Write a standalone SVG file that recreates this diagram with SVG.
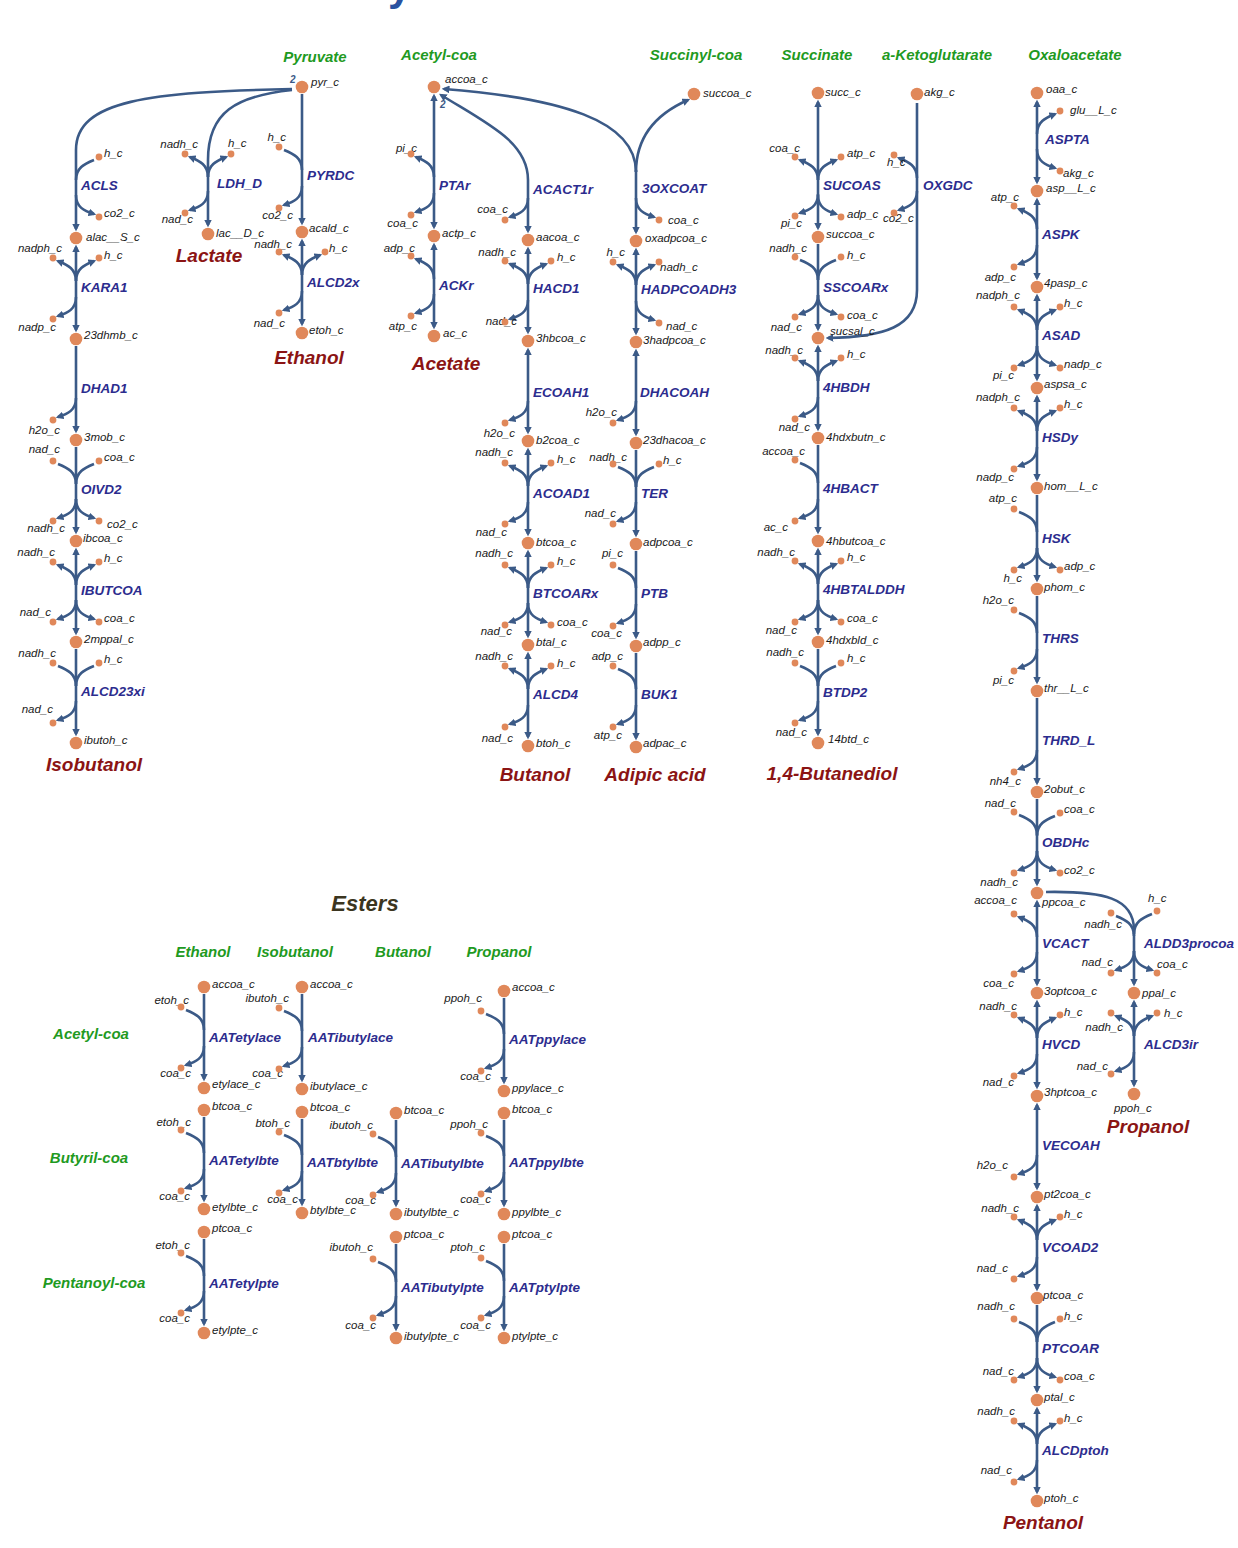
<svg xmlns="http://www.w3.org/2000/svg" width="1238" height="1548" viewBox="0 0 1238 1548">
<defs>
<style>
.ln{fill:none;stroke:#3b5a87;stroke-width:2.6}
.nd{fill:#e0885a}
.sd{fill:#e0885a}
text{font-family:"Liberation Sans",Arial,sans-serif;font-style:italic}
.m{font-size:11.5px;fill:#1a1a1a}
.e{text-anchor:end}
.rx{font-size:13.5px;font-weight:bold;fill:#2c2c8e}
.pr{font-size:19px;font-weight:bold;fill:#8b1414;text-anchor:middle}
.sr{font-size:15px;font-weight:bold;fill:#1f9a1f;text-anchor:middle}
.st{font-size:10px;font-weight:bold;fill:#3b5a87}
</style>
<marker id="ah" viewBox="0 0 10 10" refX="7" refY="5" markerWidth="3" markerHeight="3" orient="auto-start-reverse"><path d="M0,0L10,5L0,10z" fill="#3b5a87"/></marker>
<path id="tlI" fill="none" stroke="#3b5a87" stroke-width="2.6" d="M5,3C15,7 23,11 23,23"/>
<path id="tlO" fill="none" stroke="#3b5a87" stroke-width="2.6" d="M23,23C23,11 15,7 5,3" marker-end="url(#ah)"/>
<path id="trI" fill="none" stroke="#3b5a87" stroke-width="2.6" d="M-5,3C-15,7 -23,11 -23,23"/>
<path id="trO" fill="none" stroke="#3b5a87" stroke-width="2.6" d="M-23,23C-23,11 -15,7 -5,3" marker-end="url(#ah)"/>
<path id="blO" fill="none" stroke="#3b5a87" stroke-width="2.6" d="M23,-22C23,-10 15,-6 5,-3" marker-end="url(#ah)"/>
<path id="brO" fill="none" stroke="#3b5a87" stroke-width="2.6" d="M-23,-22C-23,-10 -15,-6 -5,-3" marker-end="url(#ah)"/>
</defs>
<rect width="1238" height="1548" fill="#ffffff"/>
<text x="388" y="0" style="font-size:42px;font-weight:bold;font-style:normal;fill:#2a52a0">y</text>

<g id="headers">
<text class="sr" x="315" y="62">Pyruvate</text>
<text class="sr" x="439" y="60">Acetyl-coa</text>
<text class="sr" x="696" y="60">Succinyl-coa</text>
<text class="sr" x="817" y="60">Succinate</text>
<text class="sr" x="937" y="60">a-Ketoglutarate</text>
<text class="sr" x="1075" y="60">Oxaloacetate</text>
<text class="pr" x="209" y="262">Lactate</text>
<text class="pr" x="309" y="364">Ethanol</text>
<text class="pr" x="446" y="370">Acetate</text>
<text class="pr" x="94" y="771">Isobutanol</text>
<text class="pr" x="535" y="781">Butanol</text>
<text class="pr" x="655" y="781">Adipic acid</text>
<text class="pr" x="832" y="780">1,4-Butanediol</text>
<text class="pr" x="1148" y="1133">Propanol</text>
<text class="pr" x="1043" y="1529">Pentanol</text>
<text x="365" y="911" style="font-size:22px;font-weight:bold;fill:#3b3520;text-anchor:middle">Esters</text>
<text class="sr" x="203" y="957">Ethanol</text>
<text class="sr" x="295" y="957">Isobutanol</text>
<text class="sr" x="403" y="957">Butanol</text>
<text class="sr" x="499" y="957">Propanol</text>
<text class="sr" x="91" y="1039">Acetyl-coa</text>
<text class="sr" x="89" y="1163">Butyril-coa</text>
<text class="sr" x="94" y="1288">Pentanoyl-coa</text>
</g>

<g id="connectors">
<path class="ln" marker-end="url(#ah)" d="M292,89C150,92 76,100 76,150L76,229"/>
<path class="ln" marker-end="url(#ah)" d="M292,90C236,96 208,112 208,160L208,225"/>
<path class="ln" marker-end="url(#ah)" d="M302,94L302,223"/>
<path class="ln" marker-start="url(#ah)" marker-end="url(#ah)" d="M302,241L302,324"/>
<path class="ln" marker-start="url(#ah)" marker-end="url(#ah)" d="M76,247L76,330"/>
<path class="ln" marker-end="url(#ah)" d="M76,346L76,431"/>
<path class="ln" marker-end="url(#ah)" d="M76,447L76,532"/>
<path class="ln" marker-start="url(#ah)" marker-end="url(#ah)" d="M76,550L76,633"/>
<path class="ln" marker-end="url(#ah)" d="M76,649L76,734"/>
<path class="ln" marker-start="url(#ah)" marker-end="url(#ah)" d="M434,96L434,227"/>
<path class="ln" marker-start="url(#ah)" marker-end="url(#ah)" d="M434,245L434,327"/>
<path class="ln" marker-start="url(#ah)" marker-end="url(#ah)" d="M441,95C488,124 528,142 528,180L528,231"/>
<path class="ln" marker-start="url(#ah)" d="M444,89C560,98 636,120 636,172"/>
<path class="ln" marker-start="url(#ah)" d="M688,100C656,114 636,136 636,172"/>
<path class="ln" marker-end="url(#ah)" d="M636,170L636,232"/>
<path class="ln" marker-start="url(#ah)" marker-end="url(#ah)" d="M528,249L528,332"/>
<path class="ln" marker-start="url(#ah)" marker-end="url(#ah)" d="M528,350L528,432"/>
<path class="ln" marker-start="url(#ah)" marker-end="url(#ah)" d="M528,450L528,534"/>
<path class="ln" marker-start="url(#ah)" marker-end="url(#ah)" d="M528,552L528,636"/>
<path class="ln" marker-start="url(#ah)" marker-end="url(#ah)" d="M528,654L528,737"/>
<path class="ln" marker-start="url(#ah)" marker-end="url(#ah)" d="M636,250L636,333"/>
<path class="ln" marker-start="url(#ah)" marker-end="url(#ah)" d="M636,351L636,434"/>
<path class="ln" marker-end="url(#ah)" d="M636,450L636,535"/>
<path class="ln" marker-end="url(#ah)" d="M636,551L636,637"/>
<path class="ln" marker-end="url(#ah)" d="M636,653L636,738"/>
<path class="ln" marker-start="url(#ah)" marker-end="url(#ah)" d="M818,102L818,228"/>
<path class="ln" marker-end="url(#ah)" d="M818,244L818,329"/>
<path class="ln" marker-end="url(#ah)" d="M917,103L917,290C917,327 884,337 828,338"/>
<path class="ln" marker-start="url(#ah)" marker-end="url(#ah)" d="M818,347L818,429"/>
<path class="ln" marker-end="url(#ah)" d="M818,445L818,532"/>
<path class="ln" marker-start="url(#ah)" marker-end="url(#ah)" d="M818,550L818,633"/>
<path class="ln" marker-end="url(#ah)" d="M818,649L818,734"/>
<path class="ln" marker-start="url(#ah)" marker-end="url(#ah)" d="M1037,102L1037,182"/>
<path class="ln" marker-start="url(#ah)" marker-end="url(#ah)" d="M1037,200L1037,278"/>
<path class="ln" marker-start="url(#ah)" marker-end="url(#ah)" d="M1037,296L1037,379"/>
<path class="ln" marker-start="url(#ah)" marker-end="url(#ah)" d="M1037,397L1037,479"/>
<path class="ln" marker-end="url(#ah)" d="M1037,495L1037,580"/>
<path class="ln" marker-end="url(#ah)" d="M1037,596L1037,682"/>
<path class="ln" marker-end="url(#ah)" d="M1037,698L1037,783"/>
<path class="ln" marker-end="url(#ah)" d="M1037,799L1037,884"/>
<path class="ln" marker-start="url(#ah)" marker-end="url(#ah)" d="M1037,902L1037,984"/>
<path class="ln" marker-end="url(#ah)" d="M1046,892C1104,891 1134,898 1134,930L1134,984"/>
<path class="ln" marker-start="url(#ah)" marker-end="url(#ah)" d="M1134,1002L1134,1085"/>
<path class="ln" marker-start="url(#ah)" marker-end="url(#ah)" d="M1037,1002L1037,1087"/>
<path class="ln" marker-start="url(#ah)" marker-end="url(#ah)" d="M1037,1105L1037,1188"/>
<path class="ln" marker-start="url(#ah)" marker-end="url(#ah)" d="M1037,1206L1037,1289"/>
<path class="ln" marker-end="url(#ah)" d="M1037,1305L1037,1391"/>
<path class="ln" marker-start="url(#ah)" marker-end="url(#ah)" d="M1037,1409L1037,1492"/>
<path class="ln" marker-end="url(#ah)" d="M204,994L204,1079"/>
<path class="ln" marker-end="url(#ah)" d="M302,994L302,1080"/>
<path class="ln" marker-end="url(#ah)" d="M504,998L504,1082"/>
<path class="ln" marker-end="url(#ah)" d="M204,1117L204,1200"/>
<path class="ln" marker-end="url(#ah)" d="M302,1119L302,1204"/>
<path class="ln" marker-end="url(#ah)" d="M396,1120L396,1205"/>
<path class="ln" marker-end="url(#ah)" d="M504,1120L504,1205"/>
<path class="ln" marker-end="url(#ah)" d="M204,1239L204,1324"/>
<path class="ln" marker-end="url(#ah)" d="M396,1244L396,1329"/>
<path class="ln" marker-end="url(#ah)" d="M504,1244L504,1329"/>
<!-- side branches -->
<use href="#trI" x="99" y="157"/><use href="#brO" x="99" y="217"/>
<use href="#tlO" x="185" y="154"/><use href="#trO" x="231" y="154"/><use href="#blO" x="185" y="213"/>
<use href="#tlI" x="279" y="147"/><use href="#blO" x="279" y="208"/>
<use href="#tlO" x="279" y="252"/><use href="#trO" x="325" y="252"/><use href="#blO" x="279" y="313"/>
<use href="#tlO" x="53" y="258"/><use href="#trO" x="99" y="258"/><use href="#blO" x="53" y="319"/>
<use href="#blO" x="53" y="420"/>
<use href="#tlI" x="53" y="461"/><use href="#trI" x="99" y="461"/><use href="#blO" x="53" y="521"/><use href="#brO" x="99" y="521"/>
<use href="#tlO" x="53" y="562"/><use href="#trO" x="99" y="562"/><use href="#blO" x="53" y="622"/><use href="#brO" x="99" y="622"/>
<use href="#tlI" x="53" y="663"/><use href="#trI" x="99" y="663"/><use href="#blO" x="53" y="723"/>
<use href="#tlO" x="411" y="154"/><use href="#blO" x="411" y="215"/>
<use href="#tlO" x="411" y="256"/><use href="#blO" x="411" y="316"/>
<use href="#blO" x="505" y="220"/>
<use href="#brO" x="659" y="220"/>
<use href="#tlO" x="505" y="261"/><use href="#trO" x="551" y="261"/><use href="#blO" x="505" y="322"/>
<use href="#tlO" x="613" y="262"/><use href="#trO" x="659" y="262"/><use href="#brO" x="659" y="323"/>
<use href="#blO" x="505" y="423"/>
<use href="#blO" x="613" y="423"/>
<use href="#tlO" x="505" y="463"/><use href="#trO" x="551" y="463"/><use href="#blO" x="505" y="524"/>
<use href="#tlI" x="613" y="464"/><use href="#trI" x="659" y="464"/><use href="#blO" x="613" y="524"/>
<use href="#tlO" x="505" y="565"/><use href="#trO" x="551" y="565"/><use href="#blO" x="505" y="625"/><use href="#brO" x="551" y="625"/>
<use href="#tlI" x="613" y="565"/><use href="#blO" x="613" y="626"/>
<use href="#tlO" x="505" y="666"/><use href="#trO" x="551" y="666"/><use href="#blO" x="505" y="727"/>
<use href="#tlI" x="613" y="666"/><use href="#blO" x="613" y="727"/>
<use href="#tlO" x="795" y="157"/><use href="#trO" x="841" y="157"/><use href="#blO" x="795" y="216"/><use href="#brO" x="841" y="217"/>
<use href="#tlI" x="795" y="257"/><use href="#trI" x="841" y="257"/><use href="#blO" x="795" y="317"/><use href="#brO" x="841" y="317"/>
<use href="#tlO" x="894" y="155"/><use href="#blO" x="894" y="213"/>
<use href="#tlO" x="795" y="358"/><use href="#trO" x="841" y="358"/><use href="#blO" x="795" y="419"/>
<use href="#tlI" x="795" y="460"/><use href="#blO" x="795" y="521"/>
<use href="#tlO" x="795" y="561"/><use href="#trO" x="841" y="561"/><use href="#blO" x="795" y="622"/><use href="#brO" x="841" y="622"/>
<use href="#tlI" x="795" y="663"/><use href="#trI" x="841" y="663"/><use href="#blO" x="795" y="723"/>
<use href="#trO" x="1060" y="111"/><use href="#brO" x="1060" y="171"/>
<use href="#tlO" x="1014" y="206"/><use href="#blO" x="1014" y="267"/>
<use href="#tlO" x="1014" y="307"/><use href="#trO" x="1060" y="307"/><use href="#blO" x="1014" y="368"/><use href="#brO" x="1060" y="368"/>
<use href="#tlO" x="1014" y="408"/><use href="#trO" x="1060" y="408"/><use href="#blO" x="1014" y="469"/>
<use href="#tlI" x="1014" y="509"/><use href="#blO" x="1014" y="570"/><use href="#brO" x="1060" y="570"/>
<use href="#tlI" x="1014" y="610"/><use href="#blO" x="1014" y="671"/>
<use href="#blO" x="1014" y="772"/>
<use href="#tlI" x="1014" y="812"/><use href="#trI" x="1060" y="813"/><use href="#blO" x="1014" y="873"/><use href="#brO" x="1060" y="873"/>
<use href="#tlO" x="1014" y="914"/><use href="#blO" x="1014" y="974"/>
<use href="#tlI" x="1111" y="913"/><use href="#trI" x="1157" y="911"/><use href="#blO" x="1111" y="973"/><use href="#brO" x="1157" y="973"/>
<use href="#tlO" x="1111" y="1013"/><use href="#trO" x="1157" y="1013"/><use href="#blO" x="1111" y="1074"/>
<use href="#tlO" x="1014" y="1015"/><use href="#trO" x="1060" y="1015"/><use href="#blO" x="1014" y="1076"/>
<use href="#blO" x="1014" y="1177"/>
<use href="#tlO" x="1014" y="1217"/><use href="#trO" x="1060" y="1217"/><use href="#blO" x="1014" y="1279"/>
<use href="#tlI" x="1014" y="1319"/><use href="#trI" x="1060" y="1319"/><use href="#blO" x="1014" y="1380"/><use href="#brO" x="1060" y="1380"/>
<use href="#tlO" x="1014" y="1421"/><use href="#trO" x="1060" y="1421"/><use href="#blO" x="1014" y="1482"/>
<use href="#tlI" x="181" y="1007"/><use href="#blO" x="181" y="1068"/>
<use href="#tlI" x="279" y="1008"/><use href="#blO" x="279" y="1069"/>
<use href="#tlI" x="481" y="1011"/><use href="#blO" x="481" y="1071"/>
<use href="#tlI" x="181" y="1130"/><use href="#blO" x="181" y="1191"/>
<use href="#tlI" x="279" y="1132"/><use href="#blO" x="279" y="1193"/>
<use href="#tlI" x="373" y="1134"/><use href="#blO" x="373" y="1195"/>
<use href="#tlI" x="481" y="1133"/><use href="#blO" x="481" y="1194"/>
<use href="#tlI" x="181" y="1253"/><use href="#blO" x="181" y="1313"/>
<use href="#tlI" x="373" y="1259"/><use href="#blO" x="373" y="1318"/>
<use href="#tlI" x="481" y="1258"/><use href="#blO" x="481" y="1318"/>
<text class="st" x="290" y="83">2</text>
<text class="st" x="440" y="108">2</text>
</g>

<!-- main metabolite nodes -->
<g id="n-pyr_c"><circle class="nd" cx="302" cy="87" r="6.3"/><text class="m" x="311" y="86">pyr_c</text></g>
<g id="n-acald_c"><circle class="nd" cx="302" cy="232" r="6.3"/><text class="m" x="309" y="232">acald_c</text></g>
<g id="n-etoh_c"><circle class="nd" cx="302" cy="333" r="6.3"/><text class="m" x="309" y="334">etoh_c</text></g>
<g id="n-lac__D_c"><circle class="nd" cx="208" cy="234" r="6.3"/><text class="m" x="216" y="237">lac__D_c</text></g>
<g id="n-alac__S_c"><circle class="nd" cx="76" cy="238" r="6.3"/><text class="m" x="86" y="241">alac__S_c</text></g>
<g id="n-23dhmb_c"><circle class="nd" cx="76" cy="339" r="6.3"/><text class="m" x="84" y="339">23dhmb_c</text></g>
<g id="n-3mob_c"><circle class="nd" cx="76" cy="440" r="6.3"/><text class="m" x="84" y="441">3mob_c</text></g>
<g id="n-ibcoa_c"><circle class="nd" cx="76" cy="541" r="6.3"/><text class="m" x="83" y="542">ibcoa_c</text></g>
<g id="n-2mppal_c"><circle class="nd" cx="76" cy="642" r="6.3"/><text class="m" x="84" y="643">2mppal_c</text></g>
<g id="n-ibutoh_c"><circle class="nd" cx="76" cy="743" r="6.3"/><text class="m" x="84" y="744">ibutoh_c</text></g>
<g id="n-accoa_c"><circle class="nd" cx="434" cy="87" r="6.3"/><text class="m" x="445" y="83">accoa_c</text></g>
<g id="n-actp_c"><circle class="nd" cx="434" cy="236" r="6.3"/><text class="m" x="442" y="237">actp_c</text></g>
<g id="n-ac_c"><circle class="nd" cx="434" cy="336" r="6.3"/><text class="m" x="443" y="337">ac_c</text></g>
<g id="n-aacoa_c"><circle class="nd" cx="528" cy="240" r="6.3"/><text class="m" x="536" y="241">aacoa_c</text></g>
<g id="n-3hbcoa_c"><circle class="nd" cx="528" cy="341" r="6.3"/><text class="m" x="536" y="342">3hbcoa_c</text></g>
<g id="n-b2coa_c"><circle class="nd" cx="528" cy="441" r="6.3"/><text class="m" x="536" y="444">b2coa_c</text></g>
<g id="n-btcoa_c"><circle class="nd" cx="528" cy="543" r="6.3"/><text class="m" x="536" y="546">btcoa_c</text></g>
<g id="n-btal_c"><circle class="nd" cx="528" cy="645" r="6.3"/><text class="m" x="536" y="646">btal_c</text></g>
<g id="n-btoh_c"><circle class="nd" cx="528" cy="746" r="6.3"/><text class="m" x="536" y="747">btoh_c</text></g>
<g id="n-succoa_c-top"><circle class="nd" cx="694" cy="94" r="6.3"/><text class="m" x="703" y="97">succoa_c</text></g>
<g id="n-oxadpcoa_c"><circle class="nd" cx="636" cy="241" r="6.3"/><text class="m" x="645" y="242">oxadpcoa_c</text></g>
<g id="n-3hadpcoa_c"><circle class="nd" cx="636" cy="342" r="6.3"/><text class="m" x="643" y="344">3hadpcoa_c</text></g>
<g id="n-23dhacoa_c"><circle class="nd" cx="636" cy="443" r="6.3"/><text class="m" x="643" y="444">23dhacoa_c</text></g>
<g id="n-adpcoa_c"><circle class="nd" cx="636" cy="544" r="6.3"/><text class="m" x="643" y="546">adpcoa_c</text></g>
<g id="n-adpp_c"><circle class="nd" cx="636" cy="646" r="6.3"/><text class="m" x="643" y="646">adpp_c</text></g>
<g id="n-adpac_c"><circle class="nd" cx="636" cy="747" r="6.3"/><text class="m" x="643" y="747">adpac_c</text></g>
<g id="n-succ_c"><circle class="nd" cx="818" cy="93" r="6.3"/><text class="m" x="825" y="96">succ_c</text></g>
<g id="n-succoa_c"><circle class="nd" cx="818" cy="237" r="6.3"/><text class="m" x="826" y="238">succoa_c</text></g>
<g id="n-sucsal_c"><circle class="nd" cx="818" cy="338" r="6.3"/><text class="m" x="830" y="335">sucsal_c</text></g>
<g id="n-4hdxbutn_c"><circle class="nd" cx="818" cy="438" r="6.3"/><text class="m" x="826" y="441">4hdxbutn_c</text></g>
<g id="n-4hbutcoa_c"><circle class="nd" cx="818" cy="541" r="6.3"/><text class="m" x="826" y="545">4hbutcoa_c</text></g>
<g id="n-4hdxbld_c"><circle class="nd" cx="818" cy="642" r="6.3"/><text class="m" x="826" y="644">4hdxbld_c</text></g>
<g id="n-14btd_c"><circle class="nd" cx="818" cy="743" r="6.3"/><text class="m" x="828" y="743">14btd_c</text></g>
<g id="n-akg_c"><circle class="nd" cx="917" cy="94" r="6.3"/><text class="m" x="924" y="96">akg_c</text></g>
<g id="n-oaa_c"><circle class="nd" cx="1037" cy="93" r="6.3"/><text class="m" x="1046" y="93">oaa_c</text></g>
<g id="n-asp__L_c"><circle class="nd" cx="1037" cy="191" r="6.3"/><text class="m" x="1046" y="192">asp__L_c</text></g>
<g id="n-4pasp_c"><circle class="nd" cx="1037" cy="287" r="6.3"/><text class="m" x="1044" y="287">4pasp_c</text></g>
<g id="n-aspsa_c"><circle class="nd" cx="1037" cy="388" r="6.3"/><text class="m" x="1044" y="388">aspsa_c</text></g>
<g id="n-hom__L_c"><circle class="nd" cx="1037" cy="488" r="6.3"/><text class="m" x="1044" y="490">hom__L_c</text></g>
<g id="n-phom_c"><circle class="nd" cx="1037" cy="589" r="6.3"/><text class="m" x="1044" y="591">phom_c</text></g>
<g id="n-thr__L_c"><circle class="nd" cx="1037" cy="691" r="6.3"/><text class="m" x="1044" y="692">thr__L_c</text></g>
<g id="n-2obut_c"><circle class="nd" cx="1037" cy="792" r="6.3"/><text class="m" x="1044" y="793">2obut_c</text></g>
<g id="n-ppcoa_c"><circle class="nd" cx="1037" cy="893" r="6.3"/><text class="m" x="1042" y="906">ppcoa_c</text></g>
<g id="n-3optcoa_c"><circle class="nd" cx="1037" cy="993" r="6.3"/><text class="m" x="1044" y="995">3optcoa_c</text></g>
<g id="n-ppal_c"><circle class="nd" cx="1134" cy="993" r="6.3"/><text class="m" x="1142" y="997">ppal_c</text></g>
<g id="n-ppoh_c"><circle class="nd" cx="1134" cy="1094" r="6.3"/><text class="m" x="1114" y="1112">ppoh_c</text></g>
<g id="n-3hptcoa_c"><circle class="nd" cx="1037" cy="1096" r="6.3"/><text class="m" x="1044" y="1096">3hptcoa_c</text></g>
<g id="n-pt2coa_c"><circle class="nd" cx="1037" cy="1197" r="6.3"/><text class="m" x="1044" y="1198">pt2coa_c</text></g>
<g id="n-ptcoa_c"><circle class="nd" cx="1037" cy="1298" r="6.3"/><text class="m" x="1043" y="1299">ptcoa_c</text></g>
<g id="n-ptal_c"><circle class="nd" cx="1037" cy="1400" r="6.3"/><text class="m" x="1044" y="1401">ptal_c</text></g>
<g id="n-ptoh_c"><circle class="nd" cx="1037" cy="1501" r="6.3"/><text class="m" x="1044" y="1502">ptoh_c</text></g>
<!-- ester nodes -->
<g id="n-e-accoa-1"><circle class="nd" cx="204" cy="987" r="6.3"/><text class="m" x="212" y="988">accoa_c</text></g>
<g id="n-e-accoa-2"><circle class="nd" cx="302" cy="987" r="6.3"/><text class="m" x="310" y="988">accoa_c</text></g>
<g id="n-e-accoa-4"><circle class="nd" cx="504" cy="991" r="6.3"/><text class="m" x="512" y="991">accoa_c</text></g>
<g id="n-etylace_c"><circle class="nd" cx="204" cy="1088" r="6.3"/><text class="m" x="212" y="1088">etylace_c</text></g>
<g id="n-ibutylace_c"><circle class="nd" cx="302" cy="1089" r="6.3"/><text class="m" x="310" y="1090">ibutylace_c</text></g>
<g id="n-ppylace_c"><circle class="nd" cx="504" cy="1091" r="6.3"/><text class="m" x="512" y="1092">ppylace_c</text></g>
<g id="n-e-btcoa-1"><circle class="nd" cx="204" cy="1110" r="6.3"/><text class="m" x="212" y="1110">btcoa_c</text></g>
<g id="n-e-btcoa-2"><circle class="nd" cx="302" cy="1112" r="6.3"/><text class="m" x="310" y="1111">btcoa_c</text></g>
<g id="n-e-btcoa-3"><circle class="nd" cx="396" cy="1113" r="6.3"/><text class="m" x="404" y="1114">btcoa_c</text></g>
<g id="n-e-btcoa-4"><circle class="nd" cx="504" cy="1113" r="6.3"/><text class="m" x="512" y="1113">btcoa_c</text></g>
<g id="n-etylbte_c"><circle class="nd" cx="204" cy="1209" r="6.3"/><text class="m" x="212" y="1211">etylbte_c</text></g>
<g id="n-btylbte_c"><circle class="nd" cx="302" cy="1213" r="6.3"/><text class="m" x="310" y="1214">btylbte_c</text></g>
<g id="n-ibutylbte_c"><circle class="nd" cx="396" cy="1214" r="6.3"/><text class="m" x="404" y="1216">ibutylbte_c</text></g>
<g id="n-ppylbte_c"><circle class="nd" cx="504" cy="1214" r="6.3"/><text class="m" x="512" y="1216">ppylbte_c</text></g>
<g id="n-e-ptcoa-1"><circle class="nd" cx="204" cy="1232" r="6.3"/><text class="m" x="212" y="1232">ptcoa_c</text></g>
<g id="n-e-ptcoa-3"><circle class="nd" cx="396" cy="1237" r="6.3"/><text class="m" x="404" y="1238">ptcoa_c</text></g>
<g id="n-e-ptcoa-4"><circle class="nd" cx="504" cy="1237" r="6.3"/><text class="m" x="512" y="1238">ptcoa_c</text></g>
<g id="n-etylpte_c"><circle class="nd" cx="204" cy="1333" r="6.3"/><text class="m" x="212" y="1334">etylpte_c</text></g>
<g id="n-ibutylpte_c"><circle class="nd" cx="396" cy="1338" r="6.3"/><text class="m" x="404" y="1340">ibutylpte_c</text></g>
<g id="n-ptylpte_c"><circle class="nd" cx="504" cy="1338" r="6.3"/><text class="m" x="512" y="1340">ptylpte_c</text></g>

<!-- reactions: labels and side metabolites -->
<g id="rx-ACLS"><text class="rx" x="81" y="190">ACLS</text><text class="m" x="104" y="157">h_c</text><text class="m" x="104" y="217">co2_c</text><circle class="sd" cx="99" cy="157" r="3.4"/><circle class="sd" cx="99" cy="217" r="3.4"/></g>
<g id="rx-LDH_D"><text class="rx" x="217" y="188">LDH_D</text><text class="m e" x="198" y="148">nadh_c</text><text class="m" x="228" y="147">h_c</text><text class="m e" x="193" y="223">nad_c</text><circle class="sd" cx="185" cy="154" r="3.4"/><circle class="sd" cx="231" cy="154" r="3.4"/><circle class="sd" cx="185" cy="213" r="3.4"/></g>
<g id="rx-PYRDC"><text class="rx" x="307" y="180">PYRDC</text><text class="m e" x="286" y="141">h_c</text><text class="m e" x="293" y="219">co2_c</text><circle class="sd" cx="279" cy="147" r="3.4"/><circle class="sd" cx="279" cy="208" r="3.4"/></g>
<g id="rx-ALCD2x"><text class="rx" x="307" y="287">ALCD2x</text><text class="m e" x="292" y="248">nadh_c</text><text class="m" x="329" y="252">h_c</text><text class="m e" x="285" y="327">nad_c</text><circle class="sd" cx="279" cy="252" r="3.4"/><circle class="sd" cx="325" cy="252" r="3.4"/><circle class="sd" cx="279" cy="313" r="3.4"/></g>
<g id="rx-KARA1"><text class="rx" x="81" y="292">KARA1</text><text class="m e" x="62" y="252">nadph_c</text><text class="m" x="104" y="259">h_c</text><text class="m e" x="56" y="331">nadp_c</text><circle class="sd" cx="53" cy="258" r="3.4"/><circle class="sd" cx="99" cy="258" r="3.4"/><circle class="sd" cx="53" cy="319" r="3.4"/></g>
<g id="rx-DHAD1"><text class="rx" x="81" y="393">DHAD1</text><text class="m e" x="60" y="434">h2o_c</text><circle class="sd" cx="53" cy="420" r="3.4"/></g>
<g id="rx-OIVD2"><text class="rx" x="81" y="494">OIVD2</text><text class="m e" x="60" y="453">nad_c</text><text class="m" x="104" y="461">coa_c</text><text class="m e" x="65" y="532">nadh_c</text><text class="m" x="107" y="528">co2_c</text><circle class="sd" cx="53" cy="461" r="3.4"/><circle class="sd" cx="99" cy="461" r="3.4"/><circle class="sd" cx="53" cy="521" r="3.4"/><circle class="sd" cx="99" cy="521" r="3.4"/></g>
<g id="rx-IBUTCOA"><text class="rx" x="81" y="595">IBUTCOA</text><text class="m e" x="55" y="556">nadh_c</text><text class="m" x="104" y="562">h_c</text><text class="m e" x="51" y="616">nad_c</text><text class="m" x="104" y="622">coa_c</text><circle class="sd" cx="53" cy="562" r="3.4"/><circle class="sd" cx="99" cy="562" r="3.4"/><circle class="sd" cx="53" cy="622" r="3.4"/><circle class="sd" cx="99" cy="622" r="3.4"/></g>
<g id="rx-ALCD23xi"><text class="rx" x="81" y="696">ALCD23xi</text><text class="m e" x="56" y="657">nadh_c</text><text class="m" x="104" y="663">h_c</text><text class="m e" x="53" y="713">nad_c</text><circle class="sd" cx="53" cy="663" r="3.4"/><circle class="sd" cx="99" cy="663" r="3.4"/><circle class="sd" cx="53" cy="723" r="3.4"/></g>
<g id="rx-PTAr"><text class="rx" x="439" y="190">PTAr</text><text class="m e" x="417" y="152">pi_c</text><text class="m e" x="418" y="227">coa_c</text><circle class="sd" cx="411" cy="154" r="3.4"/><circle class="sd" cx="411" cy="215" r="3.4"/></g>
<g id="rx-ACKr"><text class="rx" x="439" y="290">ACKr</text><text class="m e" x="415" y="252">adp_c</text><text class="m e" x="417" y="330">atp_c</text><circle class="sd" cx="411" cy="256" r="3.4"/><circle class="sd" cx="411" cy="316" r="3.4"/></g>
<g id="rx-ACACT1r"><text class="rx" x="533" y="194">ACACT1r</text><text class="m e" x="508" y="213">coa_c</text><circle class="sd" cx="505" cy="220" r="3.4"/></g>
<g id="rx-3OXCOAT"><text class="rx" x="642" y="193">3OXCOAT</text><text class="m" x="668" y="224">coa_c</text><circle class="sd" cx="659" cy="220" r="3.4"/></g>
<g id="rx-HACD1"><text class="rx" x="533" y="293">HACD1</text><text class="m e" x="516" y="256">nadh_c</text><text class="m" x="557" y="261">h_c</text><text class="m e" x="517" y="325">nad_c</text><circle class="sd" cx="505" cy="261" r="3.4"/><circle class="sd" cx="551" cy="261" r="3.4"/><circle class="sd" cx="505" cy="322" r="3.4"/></g>
<g id="rx-HADPCOADH3"><text class="rx" x="641" y="294">HADPCOADH3</text><text class="m e" x="625" y="256">h_c</text><text class="m" x="660" y="271">nadh_c</text><text class="m" x="666" y="330">nad_c</text><circle class="sd" cx="613" cy="262" r="3.4"/><circle class="sd" cx="659" cy="262" r="3.4"/><circle class="sd" cx="659" cy="323" r="3.4"/></g>
<g id="rx-ECOAH1"><text class="rx" x="533" y="397">ECOAH1</text><text class="m e" x="515" y="437">h2o_c</text><circle class="sd" cx="505" cy="423" r="3.4"/></g>
<g id="rx-DHACOAH"><text class="rx" x="640" y="397">DHACOAH</text><text class="m e" x="617" y="416">h2o_c</text><circle class="sd" cx="613" cy="423" r="3.4"/></g>
<g id="rx-ACOAD1"><text class="rx" x="533" y="498">ACOAD1</text><text class="m e" x="513" y="456">nadh_c</text><text class="m" x="557" y="463">h_c</text><text class="m e" x="507" y="536">nad_c</text><circle class="sd" cx="505" cy="463" r="3.4"/><circle class="sd" cx="551" cy="463" r="3.4"/><circle class="sd" cx="505" cy="524" r="3.4"/></g>
<g id="rx-TER"><text class="rx" x="641" y="498">TER</text><text class="m e" x="627" y="461">nadh_c</text><text class="m" x="663" y="464">h_c</text><text class="m e" x="616" y="517">nad_c</text><circle class="sd" cx="613" cy="464" r="3.4"/><circle class="sd" cx="659" cy="464" r="3.4"/><circle class="sd" cx="613" cy="524" r="3.4"/></g>
<g id="rx-BTCOARx"><text class="rx" x="533" y="598">BTCOARx</text><text class="m e" x="513" y="557">nadh_c</text><text class="m" x="557" y="565">h_c</text><text class="m e" x="512" y="635">nad_c</text><text class="m" x="557" y="626">coa_c</text><circle class="sd" cx="505" cy="565" r="3.4"/><circle class="sd" cx="551" cy="565" r="3.4"/><circle class="sd" cx="505" cy="625" r="3.4"/><circle class="sd" cx="551" cy="625" r="3.4"/></g>
<g id="rx-PTB"><text class="rx" x="641" y="598">PTB</text><text class="m e" x="623" y="557">pi_c</text><text class="m e" x="622" y="637">coa_c</text><circle class="sd" cx="613" cy="565" r="3.4"/><circle class="sd" cx="613" cy="626" r="3.4"/></g>
<g id="rx-ALCD4"><text class="rx" x="533" y="699">ALCD4</text><text class="m e" x="513" y="660">nadh_c</text><text class="m" x="557" y="667">h_c</text><text class="m e" x="513" y="742">nad_c</text><circle class="sd" cx="505" cy="666" r="3.4"/><circle class="sd" cx="551" cy="666" r="3.4"/><circle class="sd" cx="505" cy="727" r="3.4"/></g>
<g id="rx-BUK1"><text class="rx" x="641" y="699">BUK1</text><text class="m e" x="623" y="660">adp_c</text><text class="m e" x="622" y="739">atp_c</text><circle class="sd" cx="613" cy="666" r="3.4"/><circle class="sd" cx="613" cy="727" r="3.4"/></g>
<g id="rx-SUCOAS"><text class="rx" x="823" y="190">SUCOAS</text><text class="m e" x="800" y="152">coa_c</text><text class="m" x="847" y="157">atp_c</text><text class="m e" x="802" y="227">pi_c</text><text class="m" x="847" y="218">adp_c</text><circle class="sd" cx="795" cy="157" r="3.4"/><circle class="sd" cx="841" cy="157" r="3.4"/><circle class="sd" cx="795" cy="216" r="3.4"/><circle class="sd" cx="841" cy="217" r="3.4"/></g>
<g id="rx-SSCOARx"><text class="rx" x="823" y="292">SSCOARx</text><text class="m e" x="807" y="252">nadh_c</text><text class="m" x="847" y="259">h_c</text><text class="m e" x="802" y="331">nad_c</text><text class="m" x="847" y="319">coa_c</text><circle class="sd" cx="795" cy="257" r="3.4"/><circle class="sd" cx="841" cy="257" r="3.4"/><circle class="sd" cx="795" cy="317" r="3.4"/><circle class="sd" cx="841" cy="317" r="3.4"/></g>
<g id="rx-OXGDC"><text class="rx" x="923" y="190">OXGDC</text><text class="m" x="887" y="166">h_c</text><text class="m" x="883" y="222">co2_c</text><circle class="sd" cx="894" cy="155" r="3.4"/><circle class="sd" cx="894" cy="213" r="3.4"/></g>
<g id="rx-4HBDH"><text class="rx" x="823" y="392">4HBDH</text><text class="m e" x="803" y="354">nadh_c</text><text class="m" x="847" y="358">h_c</text><text class="m e" x="810" y="431">nad_c</text><circle class="sd" cx="795" cy="358" r="3.4"/><circle class="sd" cx="841" cy="358" r="3.4"/><circle class="sd" cx="795" cy="419" r="3.4"/></g>
<g id="rx-4HBACT"><text class="rx" x="823" y="493">4HBACT</text><text class="m e" x="805" y="455">accoa_c</text><text class="m e" x="788" y="531">ac_c</text><circle class="sd" cx="795" cy="460" r="3.4"/><circle class="sd" cx="795" cy="521" r="3.4"/></g>
<g id="rx-4HBTALDDH"><text class="rx" x="823" y="594">4HBTALDDH</text><text class="m e" x="795" y="556">nadh_c</text><text class="m" x="847" y="561">h_c</text><text class="m e" x="797" y="634">nad_c</text><text class="m" x="847" y="622">coa_c</text><circle class="sd" cx="795" cy="561" r="3.4"/><circle class="sd" cx="841" cy="561" r="3.4"/><circle class="sd" cx="795" cy="622" r="3.4"/><circle class="sd" cx="841" cy="622" r="3.4"/></g>
<g id="rx-BTDP2"><text class="rx" x="823" y="697">BTDP2</text><text class="m e" x="804" y="656">nadh_c</text><text class="m" x="847" y="662">h_c</text><text class="m e" x="807" y="736">nad_c</text><circle class="sd" cx="795" cy="663" r="3.4"/><circle class="sd" cx="841" cy="663" r="3.4"/><circle class="sd" cx="795" cy="723" r="3.4"/></g>
<g id="rx-ASPTA"><text class="rx" x="1045" y="144">ASPTA</text><text class="m" x="1070" y="114">glu__L_c</text><text class="m" x="1063" y="177">akg_c</text><circle class="sd" cx="1060" cy="111" r="3.4"/><circle class="sd" cx="1060" cy="171" r="3.4"/></g>
<g id="rx-ASPK"><text class="rx" x="1042" y="239">ASPK</text><text class="m e" x="1019" y="201">atp_c</text><text class="m e" x="1016" y="281">adp_c</text><circle class="sd" cx="1014" cy="206" r="3.4"/><circle class="sd" cx="1014" cy="267" r="3.4"/></g>
<g id="rx-ASAD"><text class="rx" x="1042" y="340">ASAD</text><text class="m e" x="1020" y="299">nadph_c</text><text class="m" x="1064" y="307">h_c</text><text class="m e" x="1014" y="379">pi_c</text><text class="m" x="1064" y="368">nadp_c</text><circle class="sd" cx="1014" cy="307" r="3.4"/><circle class="sd" cx="1060" cy="307" r="3.4"/><circle class="sd" cx="1014" cy="368" r="3.4"/><circle class="sd" cx="1060" cy="368" r="3.4"/></g>
<g id="rx-HSDy"><text class="rx" x="1042" y="442">HSDy</text><text class="m e" x="1020" y="401">nadph_c</text><text class="m" x="1064" y="408">h_c</text><text class="m e" x="1014" y="481">nadp_c</text><circle class="sd" cx="1014" cy="408" r="3.4"/><circle class="sd" cx="1060" cy="408" r="3.4"/><circle class="sd" cx="1014" cy="469" r="3.4"/></g>
<g id="rx-HSK"><text class="rx" x="1042" y="543">HSK</text><text class="m e" x="1017" y="502">atp_c</text><text class="m e" x="1022" y="582">h_c</text><text class="m" x="1064" y="570">adp_c</text><circle class="sd" cx="1014" cy="509" r="3.4"/><circle class="sd" cx="1014" cy="570" r="3.4"/><circle class="sd" cx="1060" cy="570" r="3.4"/></g>
<g id="rx-THRS"><text class="rx" x="1042" y="643">THRS</text><text class="m e" x="1014" y="604">h2o_c</text><text class="m e" x="1014" y="684">pi_c</text><circle class="sd" cx="1014" cy="610" r="3.4"/><circle class="sd" cx="1014" cy="671" r="3.4"/></g>
<g id="rx-THRD_L"><text class="rx" x="1042" y="745">THRD_L</text><text class="m e" x="1021" y="785">nh4_c</text><circle class="sd" cx="1014" cy="772" r="3.4"/></g>
<g id="rx-OBDHc"><text class="rx" x="1042" y="847">OBDHc</text><text class="m e" x="1016" y="807">nad_c</text><text class="m" x="1064" y="813">coa_c</text><text class="m e" x="1018" y="886">nadh_c</text><text class="m" x="1064" y="874">co2_c</text><circle class="sd" cx="1014" cy="812" r="3.4"/><circle class="sd" cx="1060" cy="813" r="3.4"/><circle class="sd" cx="1014" cy="873" r="3.4"/><circle class="sd" cx="1060" cy="873" r="3.4"/></g>
<g id="rx-VCACT"><text class="rx" x="1042" y="948">VCACT</text><text class="m e" x="1017" y="904">accoa_c</text><text class="m e" x="1014" y="987">coa_c</text><circle class="sd" cx="1014" cy="914" r="3.4"/><circle class="sd" cx="1014" cy="974" r="3.4"/></g>
<g id="rx-ALDD3procoa"><text class="rx" x="1144" y="948">ALDD3procoa</text><text class="m e" x="1122" y="928">nadh_c</text><text class="m" x="1148" y="902">h_c</text><text class="m e" x="1113" y="966">nad_c</text><text class="m" x="1157" y="968">coa_c</text><circle class="sd" cx="1111" cy="913" r="3.4"/><circle class="sd" cx="1157" cy="911" r="3.4"/><circle class="sd" cx="1111" cy="973" r="3.4"/><circle class="sd" cx="1157" cy="973" r="3.4"/></g>
<g id="rx-ALCD3ir"><text class="rx" x="1144" y="1049">ALCD3ir</text><text class="m e" x="1123" y="1031">nadh_c</text><text class="m" x="1164" y="1017">h_c</text><text class="m e" x="1108" y="1070">nad_c</text><circle class="sd" cx="1111" cy="1013" r="3.4"/><circle class="sd" cx="1157" cy="1013" r="3.4"/><circle class="sd" cx="1111" cy="1074" r="3.4"/></g>
<g id="rx-HVCD"><text class="rx" x="1042" y="1049">HVCD</text><text class="m e" x="1017" y="1010">nadh_c</text><text class="m" x="1064" y="1016">h_c</text><text class="m e" x="1014" y="1086">nad_c</text><circle class="sd" cx="1014" cy="1015" r="3.4"/><circle class="sd" cx="1060" cy="1015" r="3.4"/><circle class="sd" cx="1014" cy="1076" r="3.4"/></g>
<g id="rx-VECOAH"><text class="rx" x="1042" y="1150">VECOAH</text><text class="m e" x="1008" y="1169">h2o_c</text><circle class="sd" cx="1014" cy="1177" r="3.4"/></g>
<g id="rx-VCOAD2"><text class="rx" x="1042" y="1252">VCOAD2</text><text class="m e" x="1019" y="1212">nadh_c</text><text class="m" x="1064" y="1218">h_c</text><text class="m e" x="1008" y="1272">nad_c</text><circle class="sd" cx="1014" cy="1217" r="3.4"/><circle class="sd" cx="1060" cy="1217" r="3.4"/><circle class="sd" cx="1014" cy="1279" r="3.4"/></g>
<g id="rx-PTCOAR"><text class="rx" x="1042" y="1353">PTCOAR</text><text class="m e" x="1015" y="1310">nadh_c</text><text class="m" x="1064" y="1320">h_c</text><text class="m e" x="1014" y="1375">nad_c</text><text class="m" x="1064" y="1380">coa_c</text><circle class="sd" cx="1014" cy="1319" r="3.4"/><circle class="sd" cx="1060" cy="1319" r="3.4"/><circle class="sd" cx="1014" cy="1380" r="3.4"/><circle class="sd" cx="1060" cy="1380" r="3.4"/></g>
<g id="rx-ALCDptoh"><text class="rx" x="1042" y="1455">ALCDptoh</text><text class="m e" x="1015" y="1415">nadh_c</text><text class="m" x="1064" y="1422">h_c</text><text class="m e" x="1012" y="1474">nad_c</text><circle class="sd" cx="1014" cy="1421" r="3.4"/><circle class="sd" cx="1060" cy="1421" r="3.4"/><circle class="sd" cx="1014" cy="1482" r="3.4"/></g>
<g id="rx-AATetylace"><text class="rx" x="209" y="1042">AATetylace</text><text class="m e" x="189" y="1004">etoh_c</text><text class="m e" x="191" y="1077">coa_c</text><circle class="sd" cx="181" cy="1007" r="3.4"/><circle class="sd" cx="181" cy="1068" r="3.4"/></g>
<g id="rx-AATibutylace"><text class="rx" x="308" y="1042">AATibutylace</text><text class="m e" x="289" y="1002">ibutoh_c</text><text class="m e" x="283" y="1077">coa_c</text><circle class="sd" cx="279" cy="1008" r="3.4"/><circle class="sd" cx="279" cy="1069" r="3.4"/></g>
<g id="rx-AATppylace"><text class="rx" x="509" y="1044">AATppylace</text><text class="m e" x="482" y="1002">ppoh_c</text><text class="m e" x="491" y="1080">coa_c</text><circle class="sd" cx="481" cy="1011" r="3.4"/><circle class="sd" cx="481" cy="1071" r="3.4"/></g>
<g id="rx-AATetylbte"><text class="rx" x="209" y="1165">AATetylbte</text><text class="m e" x="191" y="1126">etoh_c</text><text class="m e" x="190" y="1200">coa_c</text><circle class="sd" cx="181" cy="1130" r="3.4"/><circle class="sd" cx="181" cy="1191" r="3.4"/></g>
<g id="rx-AATbtylbte"><text class="rx" x="307" y="1167">AATbtylbte</text><text class="m e" x="290" y="1127">btoh_c</text><text class="m e" x="298" y="1203">coa_c</text><circle class="sd" cx="279" cy="1132" r="3.4"/><circle class="sd" cx="279" cy="1193" r="3.4"/></g>
<g id="rx-AATibutylbte"><text class="rx" x="401" y="1168">AATibutylbte</text><text class="m e" x="373" y="1129">ibutoh_c</text><text class="m e" x="376" y="1204">coa_c</text><circle class="sd" cx="373" cy="1134" r="3.4"/><circle class="sd" cx="373" cy="1195" r="3.4"/></g>
<g id="rx-AATppylbte"><text class="rx" x="509" y="1167">AATppylbte</text><text class="m e" x="488" y="1128">ppoh_c</text><text class="m e" x="491" y="1203">coa_c</text><circle class="sd" cx="481" cy="1133" r="3.4"/><circle class="sd" cx="481" cy="1194" r="3.4"/></g>
<g id="rx-AATetylpte"><text class="rx" x="209" y="1288">AATetylpte</text><text class="m e" x="190" y="1249">etoh_c</text><text class="m e" x="190" y="1322">coa_c</text><circle class="sd" cx="181" cy="1253" r="3.4"/><circle class="sd" cx="181" cy="1313" r="3.4"/></g>
<g id="rx-AATibutylpte"><text class="rx" x="401" y="1292">AATibutylpte</text><text class="m e" x="373" y="1251">ibutoh_c</text><text class="m e" x="376" y="1329">coa_c</text><circle class="sd" cx="373" cy="1259" r="3.4"/><circle class="sd" cx="373" cy="1318" r="3.4"/></g>
<g id="rx-AATptylpte"><text class="rx" x="509" y="1292">AATptylpte</text><text class="m e" x="485" y="1251">ptoh_c</text><text class="m e" x="491" y="1329">coa_c</text><circle class="sd" cx="481" cy="1258" r="3.4"/><circle class="sd" cx="481" cy="1318" r="3.4"/></g>
</svg>
